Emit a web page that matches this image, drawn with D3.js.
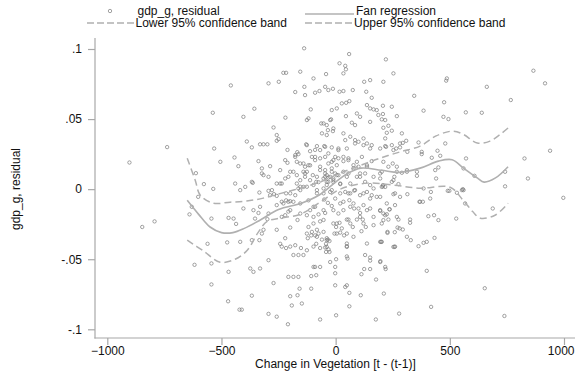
<!DOCTYPE html>
<html><head><meta charset="utf-8">
<script src="https://cdn.jsdelivr.net/npm/d3@7"></script>
<style>html,body{margin:0;padding:0;background:#fff}svg{display:block}</style>
</head><body><svg id="c" width="575" height="371"></svg>
<script>
const xTicks = [-1000, -500, 0, 500, 1000];
const yTicks = [-0.1, -0.05, 0, 0.05, 0.1];
const yTickLabels = ["-.1", "-.05", "0", ".05", ".1"];
const legendLabels = ["gdp_g, residual", "Fan regression", "Lower 95% confidence band", "Upper 95% confidence band"];
const xTitle = "Change in Vegetation [t - (t-1)]";
const yTitle = "gdp_g, residual";

const fanX = [-650,-600,-550,-500,-450,-400,-330,-250,-150,-70,0,50,110,200,280,370,450,510,560,620,650,700,755];
const fanY = [-0.008,-0.018,-0.027,-0.031,-0.031,-0.028,-0.022,-0.0145,-0.010,-0.004,0.005,0.011,0.015,0.0135,0.012,0.015,0.020,0.021,0.015,0.008,0.005,0.008,0.016];
const upperX = [-650,-615,-593,-536,-462,-390,-317,-240,-155,-70,20,110,195,280,370,440,514,560,620,676,720,755];
const upperY = [0.0221,0.0064,-0.0043,-0.010,-0.0093,-0.0085,-0.0064,-0.003,0.0007,0.005,0.0114,0.017,0.0221,0.0265,0.0307,0.038,0.0414,0.039,0.0329,0.0343,0.039,0.0436];
const lowerX = [-650,-580,-506,-440,-387,-340,-300,-243,-155,-68,20,138,252,370,501,558,600,633,698,755];
const lowerY = [-0.0364,-0.044,-0.0521,-0.050,-0.0436,-0.031,-0.023,-0.0207,-0.0179,-0.0093,0.000,0.0043,0.0029,0.0007,0.0014,-0.0079,-0.016,-0.0207,-0.0186,-0.010];

const residuals = [
[-903,0.019],[-738,0.030],[-459,0.074],[-538,0.0545],[-532,0.029],[-505,0.0195],[-443,0.0226],[-426,0.0164],[-612,0.0114],[-577,0.0036],[-536,0.0002],
[-847,-0.027],[-793,-0.023],[-602,-0.0055],[-640,-0.018],[-630,-0.0126],[-544,-0.021],[-469,-0.0205],[-447,-0.021],[-436,-0.0248],[-561,-0.039],[-475,-0.038],[-618,-0.054],[-544,-0.053],[-544,-0.068],[-469,-0.059],[-471,-0.080],[-421,-0.086],
[-389,0.034],[-331,0.032],[-316,0.032],[-299,0.032],[-258,0.0345],[-211,0.028],[-129,0.032],[-90,0.028],[-338,0.020],[-287,0.0164],[-323,0.0148],[-323,0.0112],[-243,0.0136],[-221,0.0207],[-199,0.0124],[-177,0.0243],[-168,0.0264],[-155,0.0183],[-141,0.0124],[-134,0.016],[-112,0.017],[-100,0.010],[-85,0.0052],[-440,0.004],[-363,0.0045],[-334,-0.0024],[-294,-0.0012],[-258,-0.0048],[-236,-0.009],[-217,-0.008],[-199,-0.0086],[-177,-0.0043],[-155,0.0017],[-119,-0.008],[-82,-0.003],[-404,-0.0138],[-338,-0.017],[-299,-0.0214],[-258,-0.029],[-207,-0.016],[-167,-0.022],[-126,-0.0186],[-97,-0.0245],[-367,-0.0364],[-334,-0.0364],[-243,-0.039],[-236,-0.041],[-217,-0.042],[-199,-0.041],[-177,-0.040],[-185,-0.047],[-163,-0.047],[-141,-0.047],[-126,-0.0436],[-97,-0.041],[-374,-0.0566],[-331,-0.0566],[-294,-0.0507],[-207,-0.0626],[-185,-0.0626],[-163,-0.0626],[-97,-0.0555],
[-367,-0.076],[-411,-0.086],[-294,-0.089],[-258,-0.091],[-209,-0.0964],[-360,-0.059],[-272,-0.067],[-107,-0.062],[-85,-0.0614],[-158,-0.071],[-107,-0.071],[-199,-0.0764],[-167,-0.0757],[-192,-0.083],[-148,-0.0816],[-68,-0.093],[2,-0.090],[60,-0.0836],[110,-0.0757],[176,-0.093],[211,-0.0745],[278,-0.0888],[-2,-0.0686],[42,-0.0698],[49,-0.0686],[60,-0.074],[-2,-0.060],[-2,-0.0555],[-90,-0.0555],[-68,-0.0555],[-24,-0.052],[2,-0.050],[49,-0.048],[52,-0.0495],[125,-0.057],[151,-0.057],[113,-0.0607],[177,-0.0645],[196,-0.0514],[217,-0.0555],[219,-0.057],[129,-0.047],[151,-0.0488],[151,-0.051],[260,-0.041],[202,-0.0376],[-152,-0.042],
[-221,-0.035],[-122,-0.035],[-107,-0.033],[-85,-0.039],[-68,-0.042],[-46,-0.0416],[-42,-0.0448],[-27,-0.0448],[-27,-0.037],[-39,-0.035],[-82,-0.029],[-60,-0.036],[-53,-0.0305],[-75,-0.0317],[-119,-0.027],[-104,-0.0305],[-90,-0.033],
[-5,-0.0317],[20,-0.031],[2,-0.027],[37,-0.033],[75,-0.027],[132,-0.027],[113,-0.030],[49,-0.0407],[-34,-0.036],[-42,-0.039],[-31,-0.043],
[-68,-0.023],[-53,-0.022],[-75,-0.018],[-46,-0.017],[49,-0.0217],[56,-0.0217],[5,-0.0245],[17,-0.024],[93,-0.0217],[119,-0.0217],[107,-0.017],
[166,-0.0257],[202,-0.0245],[227,-0.0305],[166,-0.0198],[259,-0.0307],[280,-0.028],[195,-0.0155],[217,-0.0186],[236,-0.0143],[-199,-0.0274],
[-331,-0.0126],[-360,-0.015],[-294,-0.0174],[-236,-0.0198],[-199,-0.015],[-221,-0.0186],[-155,-0.0174],[-112,-0.015],[-90,-0.0126],[-97,-0.0198],[-155,-0.0102],[-185,-0.009],
[-258,-0.0114],[-229,-0.0102],[-207,-0.009],[-287,-0.0043],[-270,-0.0036],[-217,-0.003],[-199,-0.003],[-163,0.0005],[-155,-0.0007],[-141,0.0016],
[-97,0.003],[-75,0.005],[-53,0.0005],[-39,0.003],[-31,0.0083],[-10,0.005],[-17,-0.0007],
[-50,-0.0074],[-34,-0.0098],[-17,-0.012],[-2,-0.0067],[20,-0.0102],[34,-0.009],[60,-0.0079],[78,-0.0102],
[20,-0.003],[42,-0.002],[64,-0.003],[81,-0.001],[107,-0.0043],[137,-0.002],[158,-0.0043],[195,-0.0055],[166,0.0005],[202,0.0016],[217,0.0016],[260,-0.003],
[27,-0.028],[49,-0.0317],[-10,-0.015],[12,-0.0174],[81,-0.0138],[100,-0.0138],[122,-0.0114],[151,-0.0138],
[56,0.0112],[93,0.0088],[129,0.0112],[166,0.0088],[202,0.0124],[257,0.0088],[5,0.010],[20,0.004],[-39,0.010],[-17,0.0124],
[-155,0.0064],[-134,0.0088],[-126,0.0124],[-185,0.0124],[-207,0.0088],[-221,0.0076],[-170,0.004],
[-258,0.004],[-243,0.004],[-294,0.0088],[-279,-0.0007],[-316,0.010],[-367,0.0052],[-396,0.0016],[-418,-0.0007],
[-353,-0.021],[-316,-0.029],[-323,-0.0317],[-418,-0.0376],
[-138,0.1005],[59,0.0964],[17,0.0898],[42,0.088],[45,0.0855],[34,0.0826],[220,0.0926],[253,0.0826],
[-294,0.0755],[-249,0.0766],[-229,0.083],[-217,0.083],[-155,0.0838],[-42,0.0821],[-97,0.079],[125,0.0766],[151,0.0778],[209,0.0766],
[-137,0.073],[-177,0.0693],[-134,0.0671],[-90,0.0688],[-71,0.070],[-46,0.073],[-32,0.0707],[-12,0.0716],[17,0.0695],[34,0.070],[75,0.0707],[134,0.0695],[158,0.0652],
[-404,0.0516],[-356,0.0574],[-220,0.051],[-126,0.0493],[-119,0.0505],[-109,0.0569],[-17,0.0564],[5,0.0576],[27,0.0612],[46,0.0616],[60,0.0628],
[-63,0.0469],[-39,0.0457],[-20,0.0498],[-34,0.0421],[-12,0.0414],[45,0.0521],[71,0.0474],[85,0.0457],[93,0.054],[107,0.0516],
[137,0.060],[151,0.0576],[166,0.0569],[180,0.0564],[207,0.0595],[187,0.0529],[202,0.0498],[217,0.0493],[246,0.0588],[268,0.0521],
[151,0.048],[-272,0.044],[-258,0.0386],[-250,0.0357],[-367,0.0298],[-211,0.0188],[-177,0.023],[-163,0.025],[-170,0.0195],
[-126,0.0314],[-82,0.0307],[-50,0.0307],[-17,0.0298],[12,0.029],[49,0.029],[85,0.0326],[122,0.0314],[151,0.029],[195,0.029],[221,0.0302],
[-112,0.0271],[-90,0.023],[-68,0.022],[-46,0.023],[-32,0.0255],[-17,0.0195],[-2,0.023],[12,0.022],[34,0.020],
[56,0.022],[78,0.0171],[93,0.0195],[115,0.023],[137,0.0171],[158,0.020],[209,0.0195],[231,0.016],[250,0.0183],[268,0.016],
[-68,0.016],[-46,0.0136],[-17,0.0148],[-2,0.0112],
[-82,0.0088],[-46,0.0088],[-32,0.0052],[-10,0.0076],[20,0.0036],[49,0.0088],[64,0.004],[107,0.0088],[129,0.0052],[151,0.0029],[195,0.0076],[207,0.0029],
[-236,0.004],[-170,0.010],[-134,0.0112],[-112,0.0064],
[487,0.079],[484,0.0774],[662,0.073],[866,0.0845],[917,0.0755],[767,0.0636],[344,0.0666],[475,0.062],[385,0.056],[570,0.0548],[640,0.0545],[472,0.0516],[494,0.050],
[207,0.0536],[231,0.0452],[209,0.0438],[246,0.0417],[224,0.0402],[290,0.0398],[309,0.0345],[294,0.033],[363,0.0333],[480,0.0326],
[217,0.0307],[253,0.0279],[265,0.029],[282,0.0298],[314,0.0266],[377,0.0266],[377,0.025],[446,0.0274],[458,0.0238],[421,0.0224],
[571,0.0219],[827,0.0219],[939,0.0274],
[268,0.0124],[290,0.0117],[312,0.0124],[356,0.0124],[356,0.0095],[436,0.0136],[450,0.0155],[440,0.0076],[560,0.0148],[608,0.0095],[742,0.0124],[842,0.0076],[742,0.002],[557,0],
[997,-0.0062],[688,-0.0138],[560,-0.0007],[553,-0.0007],[531,-0.0026],[567,-0.0102],[491,-0.0012],[498,-0.0012],
[385,0.0005],[417,-0.002],[414,-0.0067],[367,-0.009],[382,-0.009],[314,-0.0036],[253,-0.0036],[275,0.0036],[246,0.0052],[207,0.002],
[260,-0.0114],[236,-0.0145],[224,-0.0179],[209,-0.0174],[231,-0.0217],[275,-0.0217],[326,-0.0217],[326,-0.024],[294,-0.0288],[271,-0.0274],[227,-0.0312],[406,-0.0193],[431,-0.0186],[450,-0.0221],[528,-0.021],
[329,-0.0364],[363,-0.0407],[385,-0.0383],[433,-0.0348],[258,-0.0412],[199,-0.0376],[195,-0.052],
[399,-0.0583],[653,-0.0707],[418,-0.084],[739,-0.0905],
[-53,0.0469],[-24,0.0493],[-10,0.0433],[-60,0.0398],[-39,0.0386],[34,0.0398],[64,0.0374],[85,0.035],[42,0.035],
[100,0.0338],[122,0.0362],[137,0.0326],[158,0.0314],[217,0.0362],[246,0.0314],[282,0.0326],
[-68,0.0279],[-46,0.0302],[12,0.0279],[34,0.023],[56,0.0207],[-10,0.0207],[-32,0.0183],[5,0.0171],[-104,0.023],[-90,0.0207],[-141,0.0183],[-119,0.0171],
[-68,0.0136],[-46,0.0112],[-24,0.0088],[-10,0.0064],[-39,0.0052],[-53,0.0076],[12,0.010],[34,0.0124],[78,0.0148],[100,0.016],[107,0.0112],[137,0.016],[195,0.0112],[253,0.0064],[312,0.0136],
[-126,0.0017],[-82,-0.0007],[-53,-0.003],[-24,-0.002],[56,-0.003],[85,-0.0007],[122,-0.003],[151,-0.0067],[180,-0.0055],[224,-0.0102],[282,-0.0055],[370,-0.009],
[-97,-0.0126],[-53,-0.015],[34,-0.015],[64,-0.0126],[107,-0.0198],[137,-0.015],[195,-0.015],[-10,-0.0245],[64,-0.0245],[122,-0.0245],[209,-0.0221],[268,-0.0198],
[-126,-0.0317],[-82,-0.034],[-39,-0.0364],[5,-0.0317],[49,-0.0388],[78,-0.034],[137,-0.0388],[195,-0.0376],[253,-0.0412],[312,-0.034],[399,-0.0376],[-39,-0.0412],[49,-0.0412]
];

const svg = d3.select("#c");
const font = "'Liberation Sans', Arial, sans-serif";
const x = d3.scaleLinear().domain([-1000, 1000]).range([107.3, 564]);
const y = d3.scaleLinear().domain([-0.1, 0.1]).range([329.3, 49]);
const axisColor = "#a8a8a8";
const lineColor = "#b0b0b0";
const markColor = "#7a7a7a";

// axes
svg.append("line").attr("x1", 95).attr("x2", 95).attr("y1", 38).attr("y2", 338.5)
  .attr("stroke", axisColor).attr("stroke-width", 1.2);
svg.append("line").attr("x1", 94.4).attr("x2", 575).attr("y1", 338).attr("y2", 338)
  .attr("stroke", axisColor).attr("stroke-width", 1.2);

const yAxis = d3.axisLeft(y).tickValues(yTicks).tickSize(7).tickPadding(6)
  .tickFormat((d, i) => yTickLabels[i]);
const gy = svg.append("g").attr("transform", "translate(95,0)").call(yAxis);
gy.select(".domain").remove();
gy.selectAll(".tick line").attr("stroke", axisColor).attr("stroke-width", 1.2);
gy.selectAll(".tick text").attr("fill", "#111").style("font-family", font).style("font-size", "12px");

const xAxis = d3.axisBottom(x).tickValues(xTicks).tickSize(7).tickPadding(1.5).tickFormat(d3.format("d"));
const gx = svg.append("g").attr("transform", "translate(0,338)").call(xAxis);
gx.select(".domain").remove();
gx.selectAll(".tick line").attr("stroke", axisColor).attr("stroke-width", 1.2);
gx.selectAll(".tick text").attr("fill", "#111").style("font-family", font).style("font-size", "12px");
// keep the last label inside the picture, as in the reference
gx.selectAll(".tick text").filter(d => d === 1000).attr("text-anchor", "end").attr("x", 10);

// titles
svg.append("text").attr("x", 335.5).attr("y", 367.5).attr("text-anchor", "middle")
  .style("font-family", font).style("font-size", "12px").attr("fill", "#111").text(xTitle);
svg.append("text").attr("transform", "translate(20,189) rotate(-90)").attr("text-anchor", "middle")
  .style("font-family", font).style("font-size", "12px").attr("fill", "#111").text(yTitle);

// scatter
svg.append("g").selectAll("circle").data(residuals).join("circle")
  .attr("cx", d => x(d[0])).attr("cy", d => y(d[1])).attr("r", 1.7)
  .attr("fill", "none").attr("stroke", markColor).attr("stroke-width", 0.7);

// curves
const mk = (xs, ys) => xs.map((v, i) => [v, ys[i]]);
const line = d3.line().x(d => x(d[0])).y(d => y(d[1])).curve(d3.curveCatmullRom.alpha(0.5));
svg.append("path").attr("d", line(mk(lowerX, lowerY))).attr("fill", "none")
  .attr("stroke", lineColor).attr("stroke-width", 1.5).attr("stroke-dasharray", "7,4");
svg.append("path").attr("d", line(mk(upperX, upperY))).attr("fill", "none")
  .attr("stroke", lineColor).attr("stroke-width", 1.5).attr("stroke-dasharray", "7,4");
svg.append("path").attr("d", line(mk(fanX, fanY))).attr("fill", "none")
  .attr("stroke", lineColor).attr("stroke-width", 1.6);

// legend
const lg = svg.append("g").style("font-family", font).style("font-size", "12px").attr("fill", "#111");
lg.append("circle").attr("cx", 110).attr("cy", 11).attr("r", 1.7).attr("fill", "none")
  .attr("stroke", markColor).attr("stroke-width", 0.7);
lg.append("text").attr("x", 137.5).attr("y", 14.5).text(legendLabels[0]);
lg.append("line").attr("x1", 305).attr("x2", 354).attr("y1", 14).attr("y2", 14)
  .attr("stroke", lineColor).attr("stroke-width", 1.5);
lg.append("text").attr("x", 356).attr("y", 14.5).text(legendLabels[1]);
lg.append("line").attr("x1", 87).attr("x2", 135).attr("y1", 23).attr("y2", 23)
  .attr("stroke", lineColor).attr("stroke-width", 1.3).attr("stroke-dasharray", "7,3");
lg.append("text").attr("x", 135.5).attr("y", 27).text(legendLabels[2]);
lg.append("line").attr("x1", 305).attr("x2", 353).attr("y1", 23).attr("y2", 23)
  .attr("stroke", lineColor).attr("stroke-width", 1.3).attr("stroke-dasharray", "7,3");
lg.append("text").attr("x", 354).attr("y", 27).text(legendLabels[3]);
</script></body></html>
